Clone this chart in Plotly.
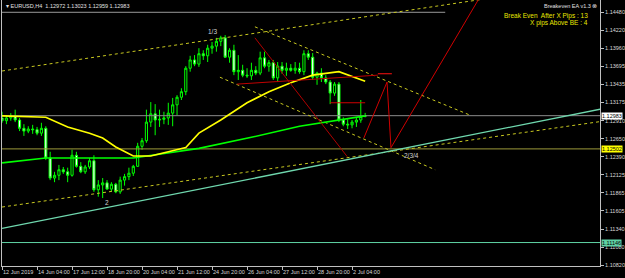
import plotly.graph_objects as go

# ---------------- data ----------------
bar_idx = list(range(84))
opens = [1.1295, 1.1291, 1.1295, 1.1298, 1.1292, 1.1280, 1.1276, 1.1279, 1.1278, 1.1273,
         1.1280, 1.1237, 1.1208, 1.1212, 1.1220, 1.1217, 1.1212, 1.1241, 1.1225, 1.1217,
         1.1224, 1.1233, 1.1191, 1.1198, 1.1201, 1.1192, 1.1199, 1.1188, 1.1205, 1.1210,
         1.1215, 1.1225, 1.1254, 1.1262, 1.1289, 1.1301, 1.1292, 1.1293, 1.1295, 1.1302,
         1.1314, 1.1325, 1.1333, 1.1367, 1.1379, 1.1373, 1.1388, 1.1385, 1.1396, 1.1399,
         1.1406, 1.1411, 1.1383, 1.1393, 1.1362, 1.1364, 1.1357, 1.1356, 1.1364, 1.1360,
         1.1382, 1.1370, 1.1375, 1.1353, 1.1370, 1.1364, 1.1367, 1.1364, 1.1367, 1.1362,
         1.1388, 1.1383, 1.1354, 1.1360, 1.1353, 1.1347, 1.1331, 1.1344, 1.1292, 1.1286,
         1.1285, 1.1289, 1.1292, 1.12972]
highs = [1.1304, 1.1299, 1.1302, 1.1307, 1.1295, 1.1286, 1.1283, 1.1285, 1.1282, 1.1288,
         1.1283, 1.1246, 1.1217, 1.1227, 1.1224, 1.1223, 1.1249, 1.1246, 1.1231, 1.1227,
         1.1237, 1.1241, 1.1205, 1.1208, 1.1205, 1.1202, 1.1201, 1.1210, 1.1214, 1.1223,
         1.1227, 1.1259, 1.1266, 1.1307, 1.1318, 1.1315, 1.1307, 1.1304, 1.1317, 1.1324,
         1.1328, 1.1338, 1.1370, 1.1385, 1.1386, 1.1396, 1.1393, 1.1401, 1.1405, 1.1411,
         1.1414, 1.1415, 1.1396, 1.1401, 1.1386, 1.1372, 1.1367, 1.1375, 1.1370, 1.1391,
         1.1391, 1.1379, 1.1379, 1.1376, 1.1376, 1.1375, 1.1373, 1.1376, 1.1375, 1.1393,
         1.1393, 1.1389, 1.1362, 1.1367, 1.1357, 1.1350, 1.1347, 1.1347, 1.1296, 1.1293,
         1.1292, 1.1295, 1.1321, 1.13023]
lows = [1.1288, 1.1286, 1.1291, 1.1289, 1.1276, 1.1269, 1.1273, 1.1272, 1.1270, 1.1269,
        1.1234, 1.1205, 1.1202, 1.1205, 1.1214, 1.1202, 1.1210, 1.1223, 1.1215, 1.1214,
        1.1221, 1.1188, 1.1181, 1.1179, 1.1191, 1.1189, 1.1186, 1.1185, 1.1197, 1.1205,
        1.1211, 1.1224, 1.1249, 1.1259, 1.1282, 1.1270, 1.1282, 1.1286, 1.1285, 1.1283,
        1.1299, 1.1321, 1.1328, 1.1362, 1.1370, 1.1369, 1.1379, 1.1376, 1.1388, 1.1391,
        1.1399, 1.1382, 1.1375, 1.1357, 1.1350, 1.1354, 1.1353, 1.1350, 1.1357, 1.1357,
        1.1367, 1.1362, 1.1350, 1.1347, 1.1359, 1.1356, 1.1362, 1.1359, 1.1359, 1.1357,
        1.1379, 1.1350, 1.1343, 1.1347, 1.1344, 1.1315, 1.1327, 1.1289, 1.1283, 1.1279,
        1.1280, 1.1282, 1.1288, 1.12959]
closes = [1.1291, 1.1295, 1.1298, 1.1292, 1.1280, 1.1276, 1.1279, 1.1278, 1.1273, 1.1280,
          1.1237, 1.1208, 1.1212, 1.1220, 1.1217, 1.1212, 1.1241, 1.1225, 1.1217, 1.1224,
          1.1233, 1.1191, 1.1198, 1.1201, 1.1192, 1.1199, 1.1188, 1.1205, 1.1210, 1.1215,
          1.1225, 1.1254, 1.1262, 1.1289, 1.1301, 1.1292, 1.1293, 1.1295, 1.1302, 1.1314,
          1.1325, 1.1333, 1.1367, 1.1379, 1.1373, 1.1388, 1.1385, 1.1396, 1.1399, 1.1406,
          1.1411, 1.1383, 1.1393, 1.1362, 1.1364, 1.1357, 1.1356, 1.1364, 1.1360, 1.1382,
          1.1370, 1.1375, 1.1353, 1.1370, 1.1364, 1.1367, 1.1364, 1.1367, 1.1362, 1.1388,
          1.1383, 1.1354, 1.1360, 1.1353, 1.1347, 1.1331, 1.1344, 1.1292, 1.1286, 1.1285,
          1.1289, 1.1292, 1.1297, 1.12983]

ma_fast_idx = [0, 10, 15, 20, 23, 26, 30, 34, 38, 42, 45, 50, 56, 61, 66, 71, 77, 80, 83]
ma_fast_val = [1.1298, 1.1296, 1.1282, 1.1273, 1.1266, 1.1253, 1.1240, 1.1240, 1.1246, 1.1252,
               1.1273, 1.1292, 1.1317, 1.1333, 1.1346, 1.1357, 1.1362, 1.1355, 1.1348]
ma_slow_idx = [0, 10, 30, 45, 57, 68, 83]
ma_slow_val = [1.1230, 1.1237, 1.1237, 1.1251, 1.1267, 1.1283, 1.1298]

x_tick_idx = [0, 8, 16, 24, 32, 40, 48, 56, 64, 72, 80]
x_tick_text = ["12 Jun 2019", "14 Jun 04:00", "17 Jun 12:00", "18 Jun 20:00", "20 Jun 04:00",
               "21 Jun 12:00", "24 Jun 20:00", "26 Jun 04:00", "27 Jun 12:00", "28 Jun 20:00",
               "2 Jul 04:00"]
y_tick_vals = [1.14480, 1.14220, 1.13960, 1.13695, 1.13435, 1.13175, 1.12910, 1.12650,
               1.12390, 1.12125, 1.11865, 1.11605, 1.11340, 1.11080, 1.10820]

bid_price = 1.12983
be_level = 1.12502
support_level = 1.11146
top_level = 1.14480

# trend lines: (x indices, prices)
upper_dotted_x = [0, 110];      upper_dotted_y = [1.1363, 1.1467]
lower_dotted_x = [0, 137];      lower_dotted_y = [1.1166, 1.1290]
cyan_trend_x = [0, 137];        cyan_trend_y = [1.1135, 1.1308]
chan_up_x = [57.8, 107];        chan_up_y = [1.1427, 1.1299]
chan_lo_x = [49.8, 99];         chan_lo_y = [1.1354, 1.1220]
red_diag_x = [57.8, 78.9];      red_diag_y = [1.1411, 1.1239]
red_a_x = [53.7, 85.9];         red_a_y = [1.1344, 1.1357]
red_b_x = [85.9, 89.1];         red_b_y = [1.1359, 1.1359]
red_short_x = [75, 83];         red_short_y = [1.1317, 1.1317]
red_zig_x = [82.7, 88.0, 88.9, 109.5]
red_zig_y = [1.1266, 1.1347, 1.1252, 1.1473]
top_line_x = [-1, 101.3];       top_line_y = [top_level, top_level]

wave_labels = ["1/3", "2", "2/3/4"]
wave_x = [48, 24, 93.5]
wave_y = [1.1420, 1.1172, 1.1241]

# ---------------- figure ----------------
W, H = 625, 278
ML, MR, MT, MB = 2, 25, 0, 12
PX_PER_BAR = 4.375
x0 = -0.01
x1 = x0 + (W - ML - MR) / PX_PER_BAR
y_top = 1.14658
y_bot = y_top - 0.0001448 * (H - MT - MB)

fig = go.Figure()

def line(xs, ys, color, dash="solid", width=1):
    fig.add_trace(go.Scatter(x=xs, y=ys, mode="lines", line=dict(color=color, width=width, dash=dash),
                             hoverinfo="skip", showlegend=False))

# horizontal lines
line([-1, 140], [bid_price, bid_price], "#8c8c8c")
line([-1, 140], [be_level, be_level], "#9c9a3a")
line([-1, 140], [support_level, support_level], "#5fd3a5")
line(top_line_x, top_line_y, "#9a9a9a")

# trend lines
line(upper_dotted_x, upper_dotted_y, "#c8c820", "dot")
line(lower_dotted_x, lower_dotted_y, "#c8c820", "dot")
line(chan_up_x, chan_up_y, "#c8c820", "dot")
line(chan_lo_x, chan_lo_y, "#c8c820", "dot")
line(cyan_trend_x, cyan_trend_y, "#6fd8ae", width=1.3)

# moving averages
line(ma_slow_idx, ma_slow_val, "#00ff00", width=1.6)
line(ma_fast_idx, ma_fast_val, "#ffff00", width=1.6)

fig.add_trace(go.Candlestick(
    x=bar_idx, open=opens, high=highs, low=lows, close=closes,
    increasing=dict(line=dict(color="#00ff00", width=1), fillcolor="#000000"),
    decreasing=dict(line=dict(color="#00ff00", width=1), fillcolor="#ffffff"),
    whiskerwidth=0, hoverinfo="skip", showlegend=False))

# red lines
line(red_diag_x, red_diag_y, "#b00000")
line(red_a_x, red_a_y, "#c00000")
line(red_b_x, red_b_y, "#ff1010")
line(red_short_x, red_short_y, "#d00000")
line(red_zig_x, red_zig_y, "#d00000")

FONT = "Liberation Sans"
ann = []
for t, xx, yy in zip(wave_labels, wave_x, wave_y):
    ann.append(dict(x=xx, y=yy, xref="x", yref="y", text=t, showarrow=False,
                    font=dict(family=FONT, size=6.5, color="#d0d0d0")))

def pxx(p):
    return (p - ML) / (W - ML - MR)

def pxy(p):
    return (H - MB - p) / (H - MT - MB)

ann.append(dict(x=pxx(4), y=pxy(6), xref="paper", yref="paper", xanchor="left", yanchor="middle",
                text="▾ EURUSD,H4  1.12972 1.13023 1.12959 1.12983", showarrow=False,
                font=dict(family=FONT, size=5.5, color="#e0e0e0")))
ann.append(dict(x=pxx(599), y=pxy(6), xref="paper", yref="paper", xanchor="right", yanchor="middle",
                text="Breakeven EA v1.3 ⊗", showarrow=False,
                font=dict(family=FONT, size=5.5, color="#e0e0e0")))
ann.append(dict(x=pxx(590), y=pxy(15.7), xref="paper", yref="paper", xanchor="right", yanchor="middle",
                text="Break Even  After X Pips : 13", showarrow=False,
                font=dict(family=FONT, size=6.5, color="#e8e800")))
ann.append(dict(x=pxx(590), y=pxy(23.3), xref="paper", yref="paper", xanchor="right", yanchor="middle",
                text="X pips Above BE : 4", showarrow=False,
                font=dict(family=FONT, size=6.5, color="#e8e800")))

for val, bg in [(bid_price, "#ffffff"), (be_level, "#ffff00"), (support_level, "#5fd3a5")]:
    ann.append(dict(x=1, y=val, xref="paper", yref="y", xanchor="left", yanchor="middle", xshift=1,
                    text=f"{val:.5f}", showarrow=False, bgcolor=bg, borderpad=0,
                    font=dict(family=FONT, size=5.5, color="#000000")))

fig.update_layout(
    width=W, height=H, margin=dict(l=ML, r=MR, t=MT, b=MB, autoexpand=False),
    paper_bgcolor="#000000", plot_bgcolor="#000000",
    showlegend=False, annotations=ann,
    xaxis=dict(range=[x0, x1], showgrid=False, zeroline=False, rangeslider=dict(visible=False),
               tickvals=x_tick_idx, ticktext=x_tick_text, ticks="outside", ticklen=3,
               tickangle=0, automargin=False,
               tickcolor="#c0c0c0", ticklabelposition="outside right",
               tickfont=dict(family=FONT, size=5.5, color="#d8d8d8"),
               showline=True, linecolor="#c0c0c0", linewidth=1, mirror=True),
    yaxis=dict(range=[y_bot, y_top], side="right", showgrid=False, zeroline=False,
               tickvals=y_tick_vals, ticktext=[f"{v:.5f}" for v in y_tick_vals],
               ticks="outside", ticklen=3, tickcolor="#c0c0c0", automargin=False,
               tickfont=dict(family=FONT, size=5.5, color="#d8d8d8"),
               showline=True, linecolor="#c0c0c0", linewidth=1, mirror=True),
)

fig.write_html("out.html")
